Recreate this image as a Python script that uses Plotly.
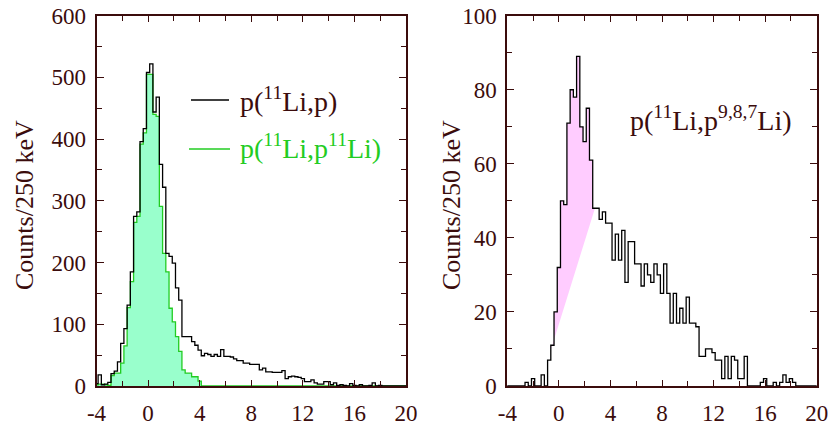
import numpy as np
import plotly.graph_objects as go

# Excitation-energy spectra in 0.25 MeV bins, bin centres -4 ... 20 MeV
bin_width = 0.25
bin_centers = np.round(np.arange(-4.0, 20.0 + 1e-9, bin_width), 3)

# p(11Li,p) inclusive spectrum (black)
counts_inclusive = [
    4, 18, 2, 3, 6, 20, 24, 39,
    69, 93, 131, 185, 275, 282, 396, 417,
    508, 522, 444, 468, 359, 322, 215, 210,
    199, 159, 139, 80, 80, 80, 72, 66,
    58, 49, 53, 51, 48, 51, 48, 59,
    48, 48, 47, 44, 41, 41, 37, 37,
    35, 35, 35, 26, 29, 23, 23, 22,
    22, 22, 25, 12, 15, 16, 15, 14,
    12, 7, 7, 10, 5, 3, 3, 7,
    7, 2, 5, 1, 2, 1, 0, 4,
    1, 0, 2, 0, 0, 1, 5, 0,
    1, 0, 0, 0, 0, 0, 0, 0,
    0,
]

# p(11Li,p 11Li) elastic spectrum (green, filled)
counts_elastic = [
    2, 3, 3, 2, 1, 17, 21, 21,
    37, 65, 127, 169, 265, 275, 392, 410,
    505, 505, 440, 437, 291, 215, 185, 126,
    104, 80, 56, 26, 21, 21, 15, 15,
    8, 0, 0, 0, 0, 0, 0, 0,
    0, 0, 0, 0, 0, 0, 0, 0,
    0, 0, 0, 0, 0, 0, 0, 0,
    0, 0, 0, 0, 0, 0, 0, 0,
    0, 0, 0, 0, 0, 0, 0, 0,
    0, 0, 0, 0, 0, 0, 0, 0,
    0, 0, 0, 0, 0, 0, 0, 0,
    0, 0, 0, 0, 0, 0, 0, 0,
    0,
]

# p(11Li,p 9,8,7Li) spectrum (right panel)
counts_breakup = [
    0, 0, 0, 0, 0, 0, 1, 0,
    2, 0, 0, 3, 0, 7, 11, 20,
    32, 50, 49, 71, 80, 78, 89, 70,
    66, 75, 61, 48, 48, 45, 47, 44,
    44, 34, 41, 34, 42, 28, 39, 39,
    33, 33, 27, 33, 30, 28, 33, 30,
    25, 33, 25, 17, 25, 17, 21, 17,
    24, 17, 17, 16, 8, 8, 10, 10,
    9, 7, 7, 2, 8, 2, 8, 7,
    2, 2, 8, 0, 0, 0, 0, 1,
    2, 0, 0, 1, 0, 1, 3, 1,
    2, 1, 0, 0, 0, 0, 0, 0,
    0,
]

# Linear background under the low-lying peak (x in MeV, counts)
bg_start = (-0.6, 10.0)
bg_end = (2.8, 48.0)

x_ticks = [-4, 0, 4, 8, 12, 16, 20]
y_ticks_left = [0, 100, 200, 300, 400, 500, 600]
y_ticks_right = [0, 20, 40, 60, 80, 100]

INK = "#3b0c0c"
SERIF = "Liberation Serif"
GREEN_LINE = "#22cc22"
GREEN_FILL = "#99ffcc"
PINK_FILL = "#ffccff"


def step_xy(centers, values):
    """Edges and values for an 'hv' stepped histogram line."""
    edges = list(np.asarray(centers) - bin_width / 2) + [centers[-1] + bin_width / 2]
    vals = list(values) + [values[-1]]
    return edges, vals


def peak_over_background(centers, values, start, end):
    """Polygon between the histogram and a straight background line."""
    x0, y0 = start
    x1, y1 = end
    xs, ys = [], []
    for c, v in zip(centers, values):
        lo = max(c - bin_width / 2, x0)
        hi = min(c + bin_width / 2, x1)
        if hi <= lo:
            continue
        xs += [lo, hi]
        ys += [v, v]
    xs += [x1, x0, xs[0]]
    ys += [y1, y0, ys[0]]
    return xs, ys


fig = go.Figure()

# Left panel
ex, ey = step_xy(bin_centers, counts_elastic)
fig.add_trace(go.Scatter(
    x=ex, y=ey, mode="lines", line=dict(color=GREEN_LINE, width=1.3, shape="hv"),
    fill="tozeroy", fillcolor=GREEN_FILL, xaxis="x", yaxis="y", hoverinfo="skip",
))
ix, iy = step_xy(bin_centers, counts_inclusive)
fig.add_trace(go.Scatter(
    x=ix, y=iy, mode="lines", line=dict(color="#000000", width=1.3, shape="hv"),
    xaxis="x", yaxis="y", hoverinfo="skip",
))

# Right panel
px_, py_ = peak_over_background(bin_centers, counts_breakup, bg_start, bg_end)
fig.add_trace(go.Scatter(
    x=px_, y=py_, mode="lines", line=dict(width=0), fill="toself",
    fillcolor=PINK_FILL, xaxis="x2", yaxis="y2", hoverinfo="skip",
))
bx, by = step_xy(bin_centers, counts_breakup)
fig.add_trace(go.Scatter(
    x=bx, y=by, mode="lines", line=dict(color="#000000", width=1.3, shape="hv"),
    xaxis="x2", yaxis="y2", hoverinfo="skip",
))

W, H = 829, 426


def fx(px):
    return px / W


def fy(py):
    return 1 - py / H


tick_font = dict(family=SERIF, size=23, color=INK)


def xaxis_style(domain, anchor):
    return dict(
        domain=domain, anchor=anchor, range=[-4, 20],
        tickmode="array", tickvals=x_ticks, ticktext=[str(v) for v in x_ticks],
        ticks="inside", ticklen=6, tickwidth=1.2, tickcolor=INK,
        minor=dict(dtick=2, tick0=0, ticks="inside", ticklen=5, tickwidth=1.2, tickcolor=INK),
        showline=True, linecolor=INK, linewidth=2, mirror="allticks",
        showgrid=False, zeroline=False, tickfont=tick_font,
        ticklabelstandoff=5, automargin=False,
    )


def yaxis_style(domain, anchor, rng, vals, minor_step):
    return dict(
        domain=domain, anchor=anchor, range=rng,
        tickmode="array", tickvals=vals, ticktext=[str(v) for v in vals],
        ticks="inside", ticklen=7, tickwidth=1.2, tickcolor=INK,
        minor=dict(dtick=minor_step, tick0=0, ticks="inside", ticklen=5, tickwidth=1.2, tickcolor=INK),
        showline=True, linecolor=INK, linewidth=2, mirror="allticks",
        showgrid=False, zeroline=False, tickfont=tick_font,
        ticklabelstandoff=4, automargin=False,
    )


y_dom = [fy(386), fy(15.7)]
fig.update_layout(
    width=W, height=H,
    margin=dict(l=0, r=0, t=0, b=0),
    paper_bgcolor="white", plot_bgcolor="white",
    showlegend=False,
    xaxis=xaxis_style([fx(96.5), fx(406)], "y"),
    yaxis=yaxis_style(y_dom, "x", [0, 600], y_ticks_left, 50),
    xaxis2=xaxis_style([fx(507.3), fx(816.7)], "y2"),
    yaxis2=yaxis_style(y_dom, "x2", [0, 100], y_ticks_right, 10),
)


def sup(s):
    return "<sup>" + s + "</sup>"


annotations = [
    dict(text="Counts/250 keV", x=fx(25), y=fy(205), textangle=-90,
         font=dict(family=SERIF, size=26, color=INK)),
    dict(text="Counts/250 keV", x=fx(452), y=fy(205), textangle=-90,
         font=dict(family=SERIF, size=26, color=INK)),
    dict(text="p(" + sup("11") + "Li,p)", x=fx(238), y=fy(99), xanchor="left",
         font=dict(family=SERIF, size=28, color=INK)),
    dict(text="p(" + sup("11") + "Li,p" + sup("11") + "Li)", x=fx(238), y=fy(146), xanchor="left",
         font=dict(family=SERIF, size=28, color=GREEN_LINE)),
    dict(text="p(" + sup("11") + "Li,p" + sup("9,8,7") + "Li)", x=fx(628), y=fy(118), xanchor="left",
         font=dict(family=SERIF, size=28, color=INK)),
]
for a in annotations:
    a.update(xref="paper", yref="paper", showarrow=False)
    a.setdefault("xanchor", "center")
    a.setdefault("yanchor", "middle")
fig.update_layout(annotations=annotations)

fig.update_layout(shapes=[
    dict(type="line", xref="paper", yref="paper", x0=fx(191), x1=fx(229),
         y0=fy(100), y1=fy(100), line=dict(color="#000000", width=1.3)),
    dict(type="line", xref="paper", yref="paper", x0=fx(189), x1=fx(230),
         y0=fy(149), y1=fy(149), line=dict(color=GREEN_LINE, width=1.3)),
])

fig.write_html("out.html")
